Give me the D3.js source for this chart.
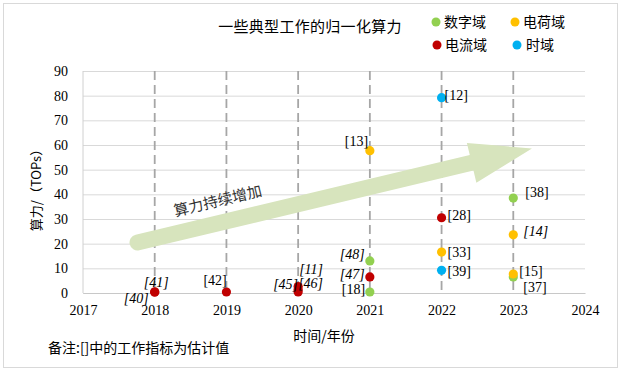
<!DOCTYPE html>
<html><head><meta charset="utf-8">
<script src="https://cdn.jsdelivr.net/npm/d3@7"></script>
<style>body{margin:0;background:#fff}svg{display:block}</style>
</head><body>
<svg id="c" width="623" height="373"></svg>
<script>
// ---- data ----
const yearTicks = [2017, 2018, 2019, 2020, 2021, 2022, 2023, 2024];
const dashedYears = [2018, 2019, 2020, 2021, 2022, 2023];
const valueTicks = [0, 10, 20, 30, 40, 50, 60, 70, 80, 90];
const seriesNames = ["数字域", "电荷域", "电流域", "时域"];
// [year, value, reference label, estimated?]
const digital = [[2021, 13, "[48]", true], [2021, 0.4, "[18]", false], [2023, 38.5, "[38]", false], [2023, 6.5, "[37]", false]];
const charge  = [[2021, 57.7, "[13]", false], [2022, 16.6, "[33]", false], [2023, 23.6, "[14]", true], [2023, 7.7, "[15]", false]];
const current = [[2018, 0.3, "[40]", true], [2018, 0.5, "[41]", true], [2019, 0.4, "[42]", false], [2020, 0.4, "[45]", true], [2020, 1.4, "[46]", true], [2020, 2.6, "[11]", true], [2021, 6.5, "[47]", true], [2022, 30.5, "[28]", false]];
const timeDom = [[2022, 79.2, "[12]", false], [2022, 9.2, "[39]", false]];
const trendFrom = [2017.76, 20.5];
const trendTo = [2023.26, 58.6];

// ---- styles / layout ----
const colors = ["#92d050", "#ffc000", "#c00000", "#00b0f0"];
const seriesData = [digital, charge, current, timeDom];
const labelOffsets = {
  "[13]": [-25, -10], "[12]": [3, -3], "[28]": [6, -3], "[33]": [6, 0], "[39]": [6, 1],
  "[38]": [12, -6], "[14]": [10, -4], "[15]": [6, -3], "[37]": [10, 10],
  "[48]": [-30, -7], "[47]": [-30, -3], "[18]": [-28, -3],
  "[41]": [-11, -10], "[40]": [-31, 6], "[42]": [-23, -12],
  "[45]": [-25, -8], "[46]": [0, -6], "[11]": [1, -17]
};
const serif = "'Liberation Serif','Times New Roman',serif";
const cjk = "'Noto Sans CJK SC','Noto Sans',sans-serif";

const svg = d3.select("#c");
svg.append("rect").attr("x", 3.5).attr("y", 3.5).attr("width", 614).attr("height", 364)
  .attr("fill", "#fff").attr("stroke", "#d9d9d9").attr("stroke-width", 1);

const x = d3.scaleLinear().domain([2017, 2024]).range([83, 585]);
const y = d3.scaleLinear().domain([0, 90]).range([293, 71]);

// y axis + gridlines
const ya = svg.append("g").attr("transform", `translate(${x(2017)},0)`)
  .call(d3.axisLeft(y).tickValues(valueTicks).tickSize(-(x(2024) - x(2017))).tickPadding(15));
ya.select(".domain").remove();
ya.selectAll(".tick line").attr("stroke", "#d9d9d9").attr("stroke-width", 1);
ya.selectAll(".tick text").attr("font-family", serif).attr("font-size", 14).attr("fill", "#000");

// x axis
const xa = svg.append("g").attr("transform", `translate(0,${y(0)})`)
  .call(d3.axisBottom(x).tickValues(yearTicks).tickFormat(d3.format("d")).tickSize(0).tickPadding(12));
xa.select(".domain").attr("stroke", "#c8c8c8").attr("stroke-width", 1.2);
xa.selectAll(".tick text").attr("font-family", serif).attr("font-size", 14).attr("fill", "#000");
svg.append("line").attr("x1", x(2017)).attr("x2", x(2017)).attr("y1", y(90)).attr("y2", y(0))
  .attr("stroke", "#d0d0d0").attr("stroke-width", 1);

// dashed year lines
svg.append("g").selectAll("line").data(dashedYears).join("line")
  .attr("x1", d => x(d)).attr("x2", d => x(d)).attr("y1", y(90)).attr("y2", y(0))
  .attr("stroke", "#a6a6a6").attr("stroke-width", 1.8).attr("stroke-dasharray", "9,5");

// trend arrow
const ax0 = x(trendFrom[0]), ay0 = y(trendFrom[1]), ax1 = x(trendTo[0]), ay1 = y(trendTo[1]);
const len = Math.hypot(ax1 - ax0, ay1 - ay0);
const ang = Math.atan2(ay1 - ay0, ax1 - ax0) * 180 / Math.PI;
const hw = 8, headL = 62, headW = 20.5;
const ag = svg.append("g").attr("transform", `translate(${ax0},${ay0}) rotate(${ang})`);
ag.append("path").attr("fill", "#d7e4bd")
  .attr("d", `M0,${-hw} L${len - headL},${-hw} L${len - headL},${-headW} L${len},0 L${len - headL},${headW} L${len - headL},${hw} L0,${hw} A${hw},${hw} 0 0 1 0,${-hw} Z`);
svg.append("text").attr("transform", `translate(219,206) rotate(${ang})`)
  .attr("text-anchor", "middle").attr("font-family", cjk).attr("font-size", 15).attr("fill", "#333")
  .text("算力持续增加");

// points and labels
seriesData.forEach((arr, i) => {
  const g = svg.append("g");
  g.selectAll("circle").data(arr).join("circle")
    .attr("cx", d => x(d[0])).attr("cy", d => y(d[1])).attr("r", 4.6).attr("fill", colors[i]);
  g.selectAll("text").data(arr).join("text")
    .attr("x", d => x(d[0]) + labelOffsets[d[2]][0])
    .attr("y", d => y(d[1]) + labelOffsets[d[2]][1])
    .attr("dy", "0.35em")
    .attr("font-family", serif).attr("font-size", 14).attr("fill", "#000")
    .attr("font-style", d => d[3] ? "italic" : "normal")
    .text(d => d[2]);
});

// title
svg.append("text").attr("x", 310).attr("y", 27).attr("dy", "0.35em").attr("text-anchor", "middle")
  .attr("font-family", cjk).attr("font-size", 15).attr("fill", "#000").attr("letter-spacing", 0.3)
  .text("一些典型工作的归一化算力");

// legend
const legendPos = [[436, 22], [515, 22], [437, 45], [517, 45]];
seriesNames.forEach((n, i) => {
  svg.append("circle").attr("cx", legendPos[i][0]).attr("cy", legendPos[i][1]).attr("r", 4.5).attr("fill", colors[i]);
  svg.append("text").attr("x", legendPos[i][0] + (i === 3 ? 9 : 8)).attr("y", legendPos[i][1]).attr("dy", "0.35em")
    .attr("font-family", cjk).attr("font-size", 14).attr("fill", "#000").text(n);
});

// axis titles
svg.append("text").attr("transform", "translate(36,187) rotate(-90)").attr("text-anchor", "middle")
  .attr("dy", "0.35em").attr("font-family", cjk).attr("font-size", 13).attr("fill", "#000")
  .text("算力/（TOPs）");
svg.append("text").attr("x", 324).attr("y", 336).attr("dy", "0.35em").attr("text-anchor", "middle")
  .attr("font-family", cjk).attr("font-size", 14).attr("fill", "#000").text("时间/年份");

// note
svg.append("text").attr("x", 48).attr("y", 348).attr("dy", "0.35em")
  .attr("font-family", cjk).attr("font-size", 14).attr("fill", "#000").text("备注:[]中的工作指标为估计值");
</script>
</body></html>
